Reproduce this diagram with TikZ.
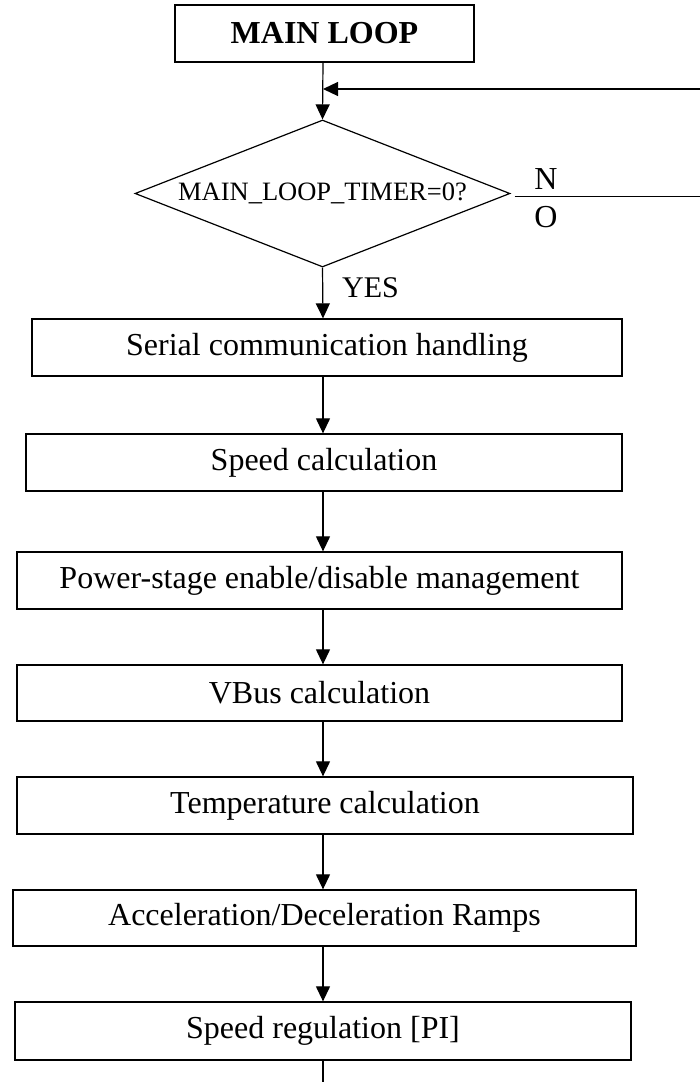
\documentclass[tikz,border=0pt]{standalone}
\usepackage{fontspec}
\setmainfont{Liberation Serif}
\usetikzlibrary{arrows.meta,shapes.geometric}

\tikzset{
  procbox/.style={draw, line width=1.3pt, inner sep=0pt, align=center,
    font=\fontsize{32}{38}\selectfont},
  flowarrow/.style={line width=1.2pt, -{Triangle[length=15pt,width=14pt]}},
  flowline/.style={line width=1.2pt}
}

\begin{document}
\begin{tikzpicture}[x=1pt,y=-1pt]
% page size of the reference
\useasboundingbox (0,0) rectangle (700,1082);
\coordinate (axis) at (323,0);
\coordinate (rightedge) at (700,89);
\coordinate (bottomedge) at (323,1082);

% start box and decision
\node[procbox, minimum width=299pt, minimum height=57pt, font=\fontsize{32}{38}\selectfont\bfseries] (mainloop) at (324.5,33.5) {MAIN LOOP};
\node[diamond, draw, line width=1.2pt, inner sep=0pt, aspect=2.55, minimum width=375pt, minimum height=147pt, font=\fontsize{26.5}{30}\selectfont] (timer) at (322.5,193.5) {MAIN\_LOOP\_TIMER=0?};

% processing steps
\node[procbox, minimum width=590pt, minimum height=57pt] (serial) at (327,347.5) {Serial communication handling};
\node[procbox, minimum width=596pt, minimum height=57pt] (speedcalc) at (324,462.5) {Speed calculation};
\node[procbox, minimum width=605pt, minimum height=57pt] (powerstage) at (319.5,580.5) {Power-stage enable/disable management};
\node[procbox, minimum width=605pt, minimum height=56pt] (vbus) at (319.5,693) {VBus calculation};
\node[procbox, minimum width=616pt, minimum height=57pt] (temp) at (325,805.5) {Temperature calculation};
\node[procbox, minimum width=623pt, minimum height=56pt] (ramps) at (324.5,918) {Acceleration/Deceleration Ramps};
\node[procbox, minimum width=616pt, minimum height=58pt] (speedreg) at (323,1031) {Speed regulation [PI]};

% branch labels
\node[align=center, inner sep=0pt, font=\fontsize{32}{38}\selectfont] (nolabel) at (546,198) {N\\O};
\node[anchor=west, inner sep=0pt, font=\fontsize{30}{36}\selectfont] (yeslabel) at (342,288) {YES};

% connectors
\draw[flowarrow] (mainloop.south -| axis) -- (timer.north);
\draw[flowarrow] (rightedge) -- (rightedge -| axis);
\draw[flowline] (timer.east) ++(4,3) coordinate (nostart) -- (nostart -| rightedge);
\draw[flowarrow] (timer.south) -- (serial.north -| axis);
\draw[flowarrow] (serial.south -| axis) -- (speedcalc.north -| axis);
\draw[flowarrow] (speedcalc.south -| axis) -- (powerstage.north -| axis);
\draw[flowarrow] (powerstage.south -| axis) -- (vbus.north -| axis);
\draw[flowarrow] (vbus.south -| axis) -- (temp.north -| axis);
\draw[flowarrow] (temp.south -| axis) -- (ramps.north -| axis);
\draw[flowarrow] (ramps.south -| axis) -- (speedreg.north -| axis);
\draw[flowline] (speedreg.south -| axis) -- (bottomedge);
\end{tikzpicture}
\end{document}
